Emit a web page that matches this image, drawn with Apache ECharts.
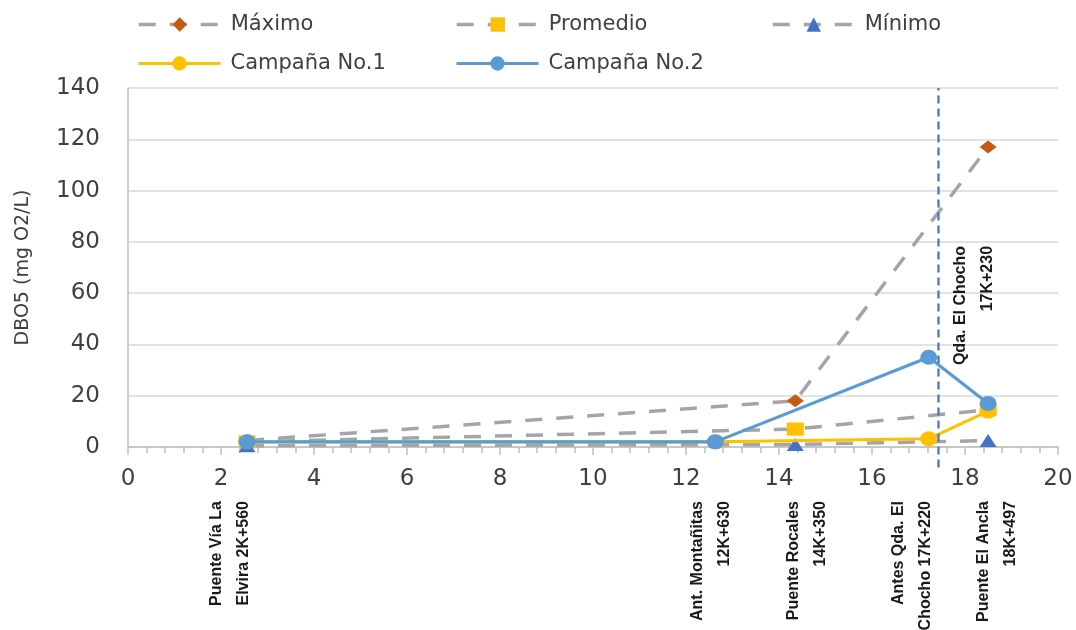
<!DOCTYPE html>
<html>
<head>
<meta charset="utf-8">
<title>DBO5 a lo largo del río</title>
<script src="https://cdn.jsdelivr.net/npm/echarts@6/dist/echarts.min.js"></script>
<style>
  html, body { margin: 0; padding: 0; background: #ffffff; }
  #chart { width: 1076px; height: 630px; }
</style>
</head>
<body>
<div id="chart"></div>
<script>
// Sampling stations along the river (abscissa in km)
const stationKm = [2.56, 12.63, 14.35, 17.22, 18.497];
const stationNames = [
  'Puente Vía La\nElvira 2K+560',
  'Ant. Montañitas\n12K+630',
  'Puente Rocales\n14K+350',
  'Antes Qda. El\nChocho 17K+220',
  'Puente El Ancla\n18K+497'
];

// Historical statistics (stations with records)
const statKm = [2.56, 14.35, 18.497];
const maxValues = [2.5, 18, 117];
const meanValues = [2, 7, 14.5];
const minValues = [0.5, 1, 2.5];

// Field campaigns
const campaignKm = [2.56, 12.63, 17.22, 18.497];
const campaign1 = [2, 2, 3.2, 14];
const campaign2 = [2, 2, 35, 17];

// Confluence of Quebrada El Chocho
const confluenceKm = 17.43;
const confluenceLabel = 'Qda. El Chocho\n17K+230';

// Axis ranges
const xMin = 0, xMax = 20, xStep = 2;
const yMin = 0, yMax = 140, yStep = 20;

// Where each rotated station caption is centred along the km axis
const captionAnchorKm = [2.2, 12.55, 14.6, 16.86, 18.69];

const pairs = (xs, ys) => xs.map((x, i) => [x, ys[i]]);

const ellipse = 'path://M0,1A1,1,0,1,1,2,1A1,1,0,1,1,0,1Z';
const grey = '#A5A5A5';
const textColor = '#404040';
const font = 'DejaVu Sans';
const captionFont = {
  fontFamily: 'Liberation Sans',
  fontWeight: 'bold',
  fontSize: 16,
  lineHeight: 27
};

const chart = echarts.init(document.getElementById('chart'), null, { renderer: 'canvas' });

function legendAt(name, left, top, lineWidth) {
  return {
    data: [name],
    left: left,
    top: top,
    padding: 0,
    itemWidth: 82,
    itemHeight: 18,
    selectedMode: false,
    lineStyle: { width: lineWidth },
    textStyle: { fontFamily: font, fontSize: 21, color: textColor, padding: [0, 0, 0, 5] }
  };
}

const statLine = {
  type: 'line',
  showSymbol: true,
  symbolSize: [17, 13],
  lineStyle: { color: grey, width: 3.5, type: [17, 14] },
  z: 2
};

const option = {
  animation: false,
  backgroundColor: '#ffffff',
  textStyle: { fontFamily: font },
  legend: [
    legendAt('Máximo', 137, 14, 3.5),
    legendAt('Promedio', 455, 14, 3.5),
    legendAt('Mínimo', 771, 14, 3.5),
    legendAt('Campaña No.1', 137, 53, 3),
    legendAt('Campaña No.2', 455, 53, 3)
  ],
  grid: {
    left: 128, right: 18, top: 88, bottom: 183,
    containLabel: false,
    outerBoundsMode: 'none'
  },
  xAxis: [
    {
      type: 'value',
      min: xMin,
      max: xMax,
      interval: xStep,
      axisLine: { show: true, lineStyle: { color: '#BFBFBF', width: 1.5 } },
      axisTick: { show: true, length: 8, lineStyle: { color: '#BFBFBF', width: 1.5 } },
      minorTick: { show: true, splitNumber: 5, length: 6, lineStyle: { color: '#BFBFBF', width: 1.5 } },
      splitLine: { show: false },
      axisLabel: { fontFamily: font, fontSize: 23, color: textColor, margin: 21 }
    },
    {
      type: 'value',
      position: 'bottom',
      min: xMin,
      max: xMax,
      axisLine: { show: false },
      axisTick: { show: false },
      splitLine: { show: false },
      axisLabel: Object.assign({
        show: true,
        customValues: captionAnchorKm,
        rotate: 90,
        margin: 54,
        color: '#1a1a1a',
        formatter: function (v) {
          let best = 0;
          captionAnchorKm.forEach(function (k, i) {
            if (Math.abs(k - v) < Math.abs(captionAnchorKm[best] - v)) best = i;
          });
          return stationNames[best];
        }
      }, captionFont)
    }
  ],
  yAxis: {
    type: 'value',
    min: yMin,
    max: yMax,
    interval: yStep,
    name: 'DBO5 (mg O2/L)',
    nameLocation: 'middle',
    nameRotate: 90,
    nameGap: 95,
    nameTextStyle: { fontFamily: font, fontSize: 19, color: textColor },
    axisLine: { show: true, lineStyle: { color: '#BFBFBF', width: 1.5 } },
    axisTick: { show: false },
    splitLine: { show: true, lineStyle: { color: '#D9D9D9', width: 1.5 } },
    axisLabel: { fontFamily: font, fontSize: 23, color: textColor, margin: 28 }
  },
  series: [
    Object.assign({}, statLine, {
      name: 'Máximo',
      symbol: 'diamond',
      itemStyle: { color: '#C55A11' },
      data: pairs(statKm, maxValues)
    }),
    Object.assign({}, statLine, {
      name: 'Promedio',
      symbol: 'rect',
      itemStyle: { color: '#FFC000' },
      data: pairs(statKm, meanValues)
    }),
    Object.assign({}, statLine, {
      name: 'Mínimo',
      symbol: 'triangle',
      itemStyle: { color: '#4472C4' },
      data: pairs(statKm, minValues)
    }),
    {
      name: 'Campaña No.1',
      type: 'line',
      symbol: ellipse,
      symbolSize: [17, 15],
      showSymbol: true,
      lineStyle: { color: '#FFC000', width: 3 },
      itemStyle: { color: '#FFC000' },
      data: pairs(campaignKm, campaign1),
      z: 3
    },
    {
      name: 'Campaña No.2',
      type: 'line',
      symbol: ellipse,
      symbolSize: [17, 15],
      showSymbol: true,
      lineStyle: { color: '#5B9BD5', width: 3.2 },
      itemStyle: { color: '#5B9BD5' },
      data: pairs(campaignKm, campaign2),
      z: 4
    },
    {
      name: 'Confluencia',
      type: 'line',
      symbol: 'none',
      clip: false,
      lineStyle: { color: '#4472C4', width: 2.2, type: [8, 5] },
      data: [[confluenceKm, -8], [confluenceKm, yMax]],
      z: 5
    }
  ]
};

chart.setOption(option);

// Rotated caption beside the confluence line
const anchor = chart.convertToPixel({ gridIndex: 0 }, [confluenceKm, 78.4]);
chart.setOption({
  graphic: [{
    type: 'text',
    x: anchor[0] + 36,
    y: anchor[1],
    rotation: Math.PI / 2,
    z: 10,
    style: Object.assign({
      text: confluenceLabel,
      fill: '#1a1a1a',
      align: 'right',
      verticalAlign: 'middle'
    }, captionFont)
  }]
});
</script>
</body>
</html>
